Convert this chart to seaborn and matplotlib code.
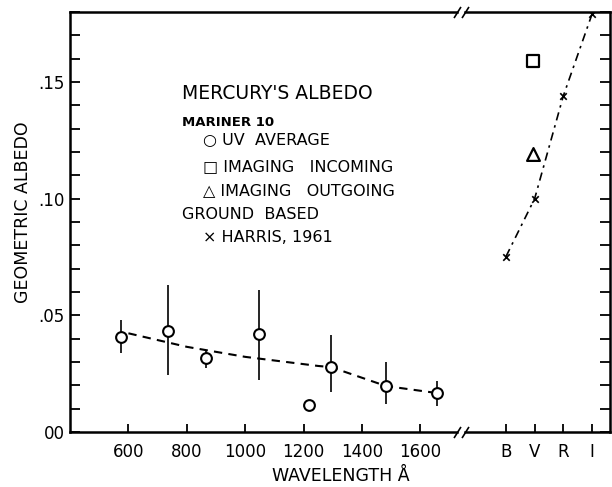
# Mercury's geometric albedo: Mariner 10 UV + imaging, ground based (Harris 1961)

import numpy as np
import pandas as pd
import seaborn as sns
import matplotlib.pyplot as plt
from matplotlib.ticker import MultipleLocator

# Mariner 10 UV average
uv_wavelength = [576, 737, 867, 1048, 1219, 1294, 1482, 1656]
uv_albedo = [0.0406, 0.0432, 0.0316, 0.0419, 0.0115, 0.0278, 0.0197, 0.0167]
uv_low = [0.0340, 0.0244, 0.0274, 0.0222, 0.0097, 0.0171, 0.0120, 0.0111]
uv_high = [0.0479, 0.0628, 0.0346, 0.0607, 0.0133, 0.0415, 0.0300, 0.0218]

# dashed trend through the UV points
trend_wavelength = [600, 800, 1000, 1250, 1294, 1482, 1656]
trend_albedo = [0.0423, 0.0365, 0.0322, 0.0283, 0.0278, 0.0197, 0.0167]

# broadband filters
bands = ["B", "V", "R", "I"]
harris_albedo = [0.0752, 0.100, 0.144, 0.179]
imaging_band = "V"
imaging_incoming = [0.159]
imaging_outgoing = [0.119]

uv = pd.DataFrame({"wavelength": uv_wavelength, "albedo": uv_albedo,
                   "low": uv_low, "high": uv_high})
trend = pd.DataFrame({"wavelength": trend_wavelength, "albedo": trend_albedo})
band_pos = {b: i for i, b in enumerate(bands)}
harris = pd.DataFrame({"band": [band_pos[b] for b in bands], "albedo": harris_albedo})
img_x = band_pos[imaging_band] - 0.06

sns.set_theme(style="ticks")
plt.rcParams['font.family'] = ['DejaVu Sans']
plt.rcParams['text.color'] = 'black'

fig = plt.figure(figsize=(6.12, 4.87), dpi=100)
ax1 = fig.add_axes([70 / 612, 1 - 432 / 487, 387 / 612, 420 / 487])
ax2 = fig.add_axes([465 / 612, 1 - 432 / 487, 145 / 612, 420 / 487], sharey=ax1)

# --- left panel: UV wavelengths
sns.lineplot(data=trend, x="wavelength", y="albedo", ax=ax1, color="black",
             lw=1.5, linestyle=(0, (4, 3)))
ax1.vlines(uv["wavelength"], uv["low"], uv["high"], color="black", lw=1.2)
sns.scatterplot(data=uv, x="wavelength", y="albedo", ax=ax1, marker="o", s=60,
                facecolor="white", edgecolor="black", linewidth=1.5, zorder=3)

ax1.set_xlim(400, 1725)
ax1.set_ylim(0, 0.18)
ax1.set_xticks([600, 800, 1000, 1200, 1400, 1600])
ax1.set_yticks([0, 0.05, 0.10, 0.15], ["00", ".05", ".10", ".15"])
ax1.yaxis.set_minor_locator(MultipleLocator(0.01))
ax1.set_xlabel("")
ax1.set_ylabel("")

# --- right panel: broadband
sns.lineplot(data=harris, x="band", y="albedo", ax=ax2, color="black", lw=1.2,
             linestyle=(0, (5, 3, 1.5, 3)))
sns.scatterplot(data=harris, x="band", y="albedo", ax=ax2, marker="x", s=22,
                color="black", linewidth=1.2, zorder=3)
ax2.scatter([img_x], imaging_incoming, marker="s", s=80, facecolor="white",
            edgecolor="black", linewidth=1.6, zorder=3)
ax2.scatter([img_x], imaging_outgoing, marker="^", s=85, facecolor="white",
            edgecolor="black", linewidth=1.6, zorder=3)
ax2.set_xlim(-1.43, 3.63)
ax2.set_xticks(range(len(bands)), bands)
ax2.set_xlabel("")
ax2.set_ylabel("")
ax2.yaxis.tick_right()
ax2.tick_params(axis="y", which="both", labelright=False)

for ax in (ax1, ax2):
    for sp in ax.spines.values():
        sp.set_linewidth(1.8)
        sp.set_color("black")
    ax.tick_params(axis="both", which="both", direction="in", color="black",
                   width=1.3, labelsize=12, labelcolor="black")
    ax.tick_params(axis="y", which="both", length=7, pad=4)
    ax.tick_params(axis="x", length=6, pad=8)
    ax.set_facecolor("white")
ax1.spines["right"].set_visible(False)
ax2.spines["left"].set_visible(False)

# break marks
kw = dict(marker=[(-1, -1.6), (1, 1.6)], markersize=8, linestyle="none",
          color="black", mec="black", mew=1.2, clip_on=False)
ax1.plot([1, 1], [0, 1], transform=ax1.transAxes, **kw)
ax2.plot([0, 0], [0, 1], transform=ax2.transAxes, **kw)

# legend block written as text
tx, ix = 0.289, 0.344
ax1.text(tx, 0.807, "MERCURY'S ALBEDO", transform=ax1.transAxes, fontsize=13.5, va="center")
ax1.text(tx, 0.736, "MARINER 10", transform=ax1.transAxes, fontsize=9.5, weight="bold", va="center")
ax1.text(ix, 0.693, "○ UV  AVERAGE", transform=ax1.transAxes, fontsize=11.5, va="center")
ax1.text(ix, 0.631, "□ IMAGING   INCOMING", transform=ax1.transAxes, fontsize=11.5, va="center")
ax1.text(ix, 0.576, "△ IMAGING   OUTGOING", transform=ax1.transAxes, fontsize=11.5, va="center")
ax1.text(tx, 0.517, "GROUND  BASED", transform=ax1.transAxes, fontsize=11.5, va="center")
ax1.text(ix, 0.462, "× HARRIS, 1961", transform=ax1.transAxes, fontsize=11.5, va="center")

fig.text(23 / 612, 1 - 212 / 487, "GEOMETRIC ALBEDO", fontsize=12.5, rotation=90,
         ha="center", va="center")
fig.text(341 / 612, 1 - 476 / 487, "WAVELENGTH Å", fontsize=12.5, ha="center", va="center")

fig.savefig("out.png", dpi=100, facecolor="white")
